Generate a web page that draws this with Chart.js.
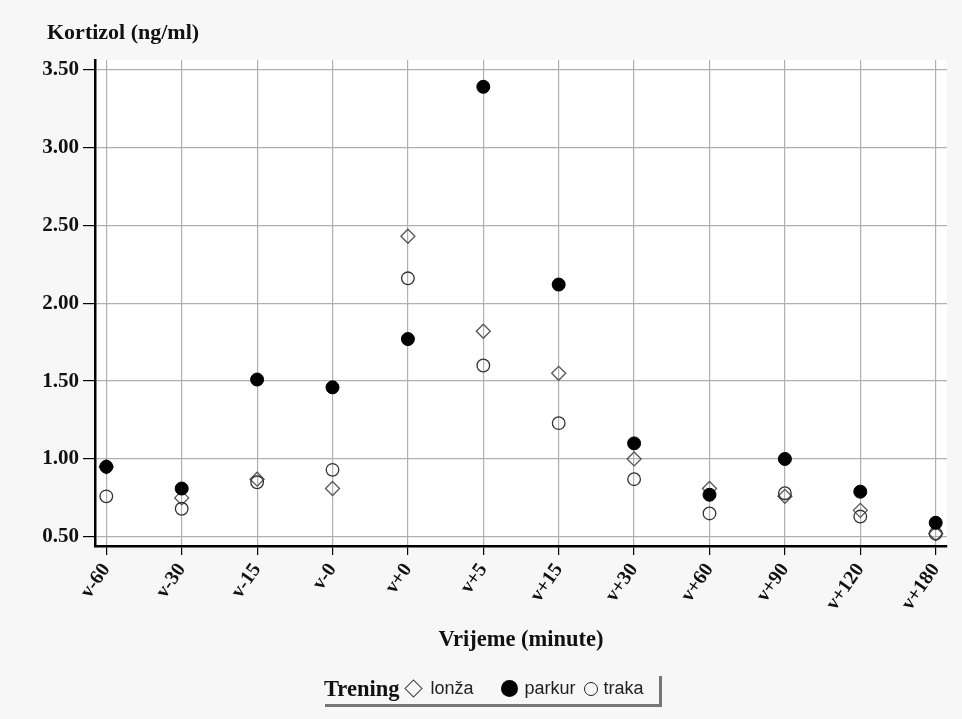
<!DOCTYPE html>
<html>
<head>
<meta charset="utf-8">
<script src="https://cdn.jsdelivr.net/npm/chart.js@4"></script>
<style>
  body { margin: 0; background: #f7f7f7; }
  #wrap { position: relative; width: 962px; height: 719px; }
  canvas { position: absolute; left: 0; top: 0; }
  .serif { font-family: "Liberation Serif", "Times New Roman", serif; font-weight: bold; color: #111; }
  #ytitle { position: absolute; left: 47px; top: 19px; font-size: 22px; }
  #xtitle { position: absolute; left: 0; width: 1042px; text-align: center; top: 626px; font-size: 22.5px; }
  #legend { position: absolute; left: 322px; top: 673px; width: 337px; height: 31px;
            box-shadow: 3px 3px 0 #777; display: flex; align-items: center; }
  #legend .t { font-size: 22.5px; margin-left: 2px; margin-right: 3px; }
  #legend .it { font-family: "Liberation Sans", Arial, sans-serif; font-size: 18px; color: #222; display: flex; align-items: center; margin-right: 6px; }
  .mk { display: inline-block; margin-right: 6px; box-sizing: border-box; }
  .dia { width: 13px; height: 13px; border: 1.3px solid #444; transform: rotate(45deg); margin: 0 10px 0 5px; }
  .fill { width: 17px; height: 17px; border-radius: 50%; background: #000; margin-left: 22px; }
  .open { width: 14px; height: 14px; border-radius: 50%; border: 1.3px solid #222; margin-left: 2px; }
</style>
</head>
<body>
<div id="wrap">
  <canvas id="chart" width="962" height="719"></canvas>
  <div id="ytitle" class="serif">Kortizol (ng/ml)</div>
  <div id="xtitle" class="serif">Vrijeme (minute)</div>
  <div id="legend">
    <span class="t serif">Trening</span>
    <span class="it"><span class="mk dia"></span>lonža</span>
    <span class="it"><span class="mk fill"></span>parkur</span>
    <span class="it"><span class="mk open"></span>traka</span>
  </div>
</div>
<script>
const vrijeme = ['v-60', 'v-30', 'v-15', 'v-0', 'v+0', 'v+5', 'v+15', 'v+30', 'v+60', 'v+90', 'v+120', 'v+180'];
const lonza  = [0.95, 0.75, 0.87, 0.81, 2.43, 1.82, 1.55, 1.00, 0.81, 0.76, 0.67, 0.52];
const parkur = [0.95, 0.81, 1.51, 1.46, 1.77, 3.39, 2.12, 1.10, 0.77, 1.00, 0.79, 0.59];
const traka  = [0.76, 0.68, 0.85, 0.93, 2.16, 1.60, 1.23, 0.87, 0.65, 0.78, 0.63, 0.52];
const yTicks = [0.5, 1.0, 1.5, 2.0, 2.5, 3.0, 3.5];

function toPoints(arr) {
    return arr.map((v, i) => ({ x: i, y: v }));
}

// bijela pozadina samo za područje grafa
const plotBg = {
    id: 'plotBg',
    beforeDraw(chart) {
        const a = chart.chartArea;
        const ctx = chart.ctx;
        ctx.save();
        ctx.fillStyle = '#ffffff';
        ctx.fillRect(a.left, a.top, a.right - a.left, a.bottom - a.top);
        ctx.restore();
    }
};

const serif = '"Liberation Serif", "Times New Roman", serif';

new Chart(document.getElementById('chart').getContext('2d'), {
    type: 'scatter',
    data: {
        datasets: [{
            label: 'lonža',
            data: toPoints(lonza),
            pointStyle: 'rectRot',
            pointRadius: 7,
            backgroundColor: 'rgba(255,255,255,0)',
            borderColor: '#555',
            borderWidth: 1.3,
            order: 2
        }, {
            label: 'parkur',
            data: toPoints(parkur),
            pointStyle: 'circle',
            pointRadius: 6.5,
            backgroundColor: '#000',
            borderColor: '#000',
            borderWidth: 1,
            order: 0
        }, {
            label: 'traka',
            data: toPoints(traka),
            pointStyle: 'circle',
            pointRadius: 6.3,
            backgroundColor: 'rgba(255,255,255,0)',
            borderColor: '#333',
            borderWidth: 1.3,
            order: 1
        }]
    },
    options: {
        responsive: false,
        animation: false,
        layout: { padding: { top: 60, right: 15, left: 0, bottom: 0 } },
        plugins: { legend: { display: false }, tooltip: { enabled: false } },
        scales: {
            x: {
                type: 'linear',
                min: -0.15,
                max: 11.15,
                afterBuildTicks: s => { s.ticks = vrijeme.map((_, i) => ({ value: i })); },
                afterFit: s => { s.height = 173; },
                ticks: {
                    autoSkip: false,
                    minRotation: 55,
                    maxRotation: 55,
                    color: '#111',
                    font: { family: serif, weight: 'bold', size: 20 },
                    padding: 4,
                    callback: v => vrijeme[v]
                },
                grid: { color: '#b0b0b0', lineWidth: 1.2, tickColor: '#000', tickLength: 9 },
                border: { color: '#000', width: 2.5 }
            },
            y: {
                min: 0.441,
                max: 3.562,
                afterBuildTicks: s => { s.ticks = yTicks.map(v => ({ value: v })); },
                afterFit: s => { s.width = 95; },
                ticks: {
                    color: '#111',
                    font: { family: serif, weight: 'bold', size: 21 },
                    padding: 4,
                    callback: v => v.toFixed(2)
                },
                grid: { color: '#b0b0b0', lineWidth: 1.2, tickColor: '#000', tickLength: 12 },
                border: { color: '#000', width: 2.5 }
            }
        }
    },
    plugins: [plotBg]
});
</script>
</body>
</html>
